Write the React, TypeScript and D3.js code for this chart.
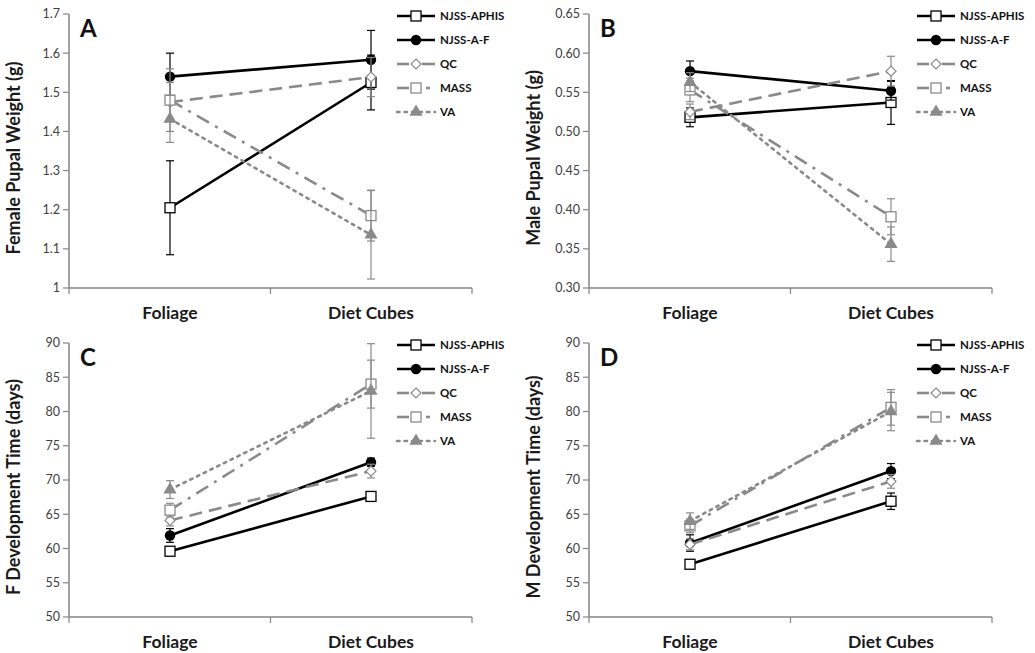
import React from 'react';
import * as d3 from 'd3';

// categories and series
const categories = ['Foliage', 'Diet Cubes'];
const seriesNames = ['NJSS-APHIS', 'NJSS-A-F', 'QC', 'MASS', 'VA'];

// A: female pupal weight (g), [foliage, diet cubes] per series
const femaleWeight = [[1.205, 1.525], [1.54, 1.583], [1.475, 1.539], [1.48, 1.185], [1.432, 1.136]];
const femaleWeightErr = [[0.12, 0.07], [0.06, 0.075], [0.05, 0.05], [0.08, 0.065], [0.06, 0.113]];

// B: male pupal weight (g)
const maleWeight = [[0.518, 0.537], [0.577, 0.552], [0.525, 0.577], [0.553, 0.391], [0.563, 0.356]];
const maleWeightErr = [[0.012, 0.028], [0.013, 0.012], [0.01, 0.019], [0.015, 0.023], [0.012, 0.022]];

// C: female development time (days)
const femaleDev = [[59.6, 67.6], [61.9, 72.6], [64.1, 71.3], [65.6, 84.0], [68.6, 83.0]];
const femaleDevErr = [[0.5, 0.6], [1.0, 0.6], [0.8, 1.0], [1.0, 3.5], [1.3, 6.9]];

// D: male development time (days)
const maleDev = [[57.7, 66.9], [60.8, 71.3], [60.6, 69.8], [63.3, 80.6], [64.0, 80.0]];
const maleDevErr = [[0.4, 1.2], [1.2, 1.1], [0.8, 1.0], [1.0, 2.6], [1.2, 2.8]];

const weightTicksA = [1, 1.1, 1.2, 1.3, 1.4, 1.5, 1.6, 1.7];
const weightTicksB = [0.3, 0.35, 0.4, 0.45, 0.5, 0.55, 0.6, 0.65];
const devTicks = [50, 55, 60, 65, 70, 75, 80, 85, 90];

const FONT = 'Lato, "Open Sans", sans-serif';
const GRAY = '#8a8a8a';
const AXIS = '#858585';

const styles = [
  { color: '#000', dash: null, marker: 'square', width: 2.6 },
  { color: '#000', dash: null, marker: 'circle', width: 2.6 },
  { color: GRAY, dash: '13,7', marker: 'diamond', width: 2.6 },
  { color: GRAY, dash: '14,7,3,7', marker: 'square', width: 2.6 },
  { color: GRAY, dash: '2.5,5', marker: 'triangle', width: 2.6 },
];

function Marker({ x, y, kind, color }: any) {
  if (kind === 'circle') return <circle cx={x} cy={y} r={5.2} fill={color} />;
  if (kind === 'square')
    return <rect x={x - 5} y={y - 5} width={10} height={10} fill="#fff" stroke={color} strokeWidth={1.3} />;
  if (kind === 'diamond')
    return <path d={`M${x},${y - 5}L${x + 5},${y}L${x},${y + 5}L${x - 5},${y}Z`} fill="#fff" stroke={color} strokeWidth={1.2} />;
  return <path d={d3.symbol(d3.symbolTriangle, 75)() || ''} transform={`translate(${x},${y})`} fill={color} />;
}

function Panel({ ox, oy, letter, title, values, errs, ticks, fmt }: any) {
  const x = d3.scalePoint().domain(categories).range([170, 371]);
  const y = d3.scaleLinear().domain([ticks[0], ticks[ticks.length - 1]]).range([288, 14]);
  const line = d3.line<number>().x((_, i) => x(categories[i])!).y(v => y(v));
  return (
    <g transform={`translate(${ox},${oy})`} fontFamily={FONT}>
      {/* axes */}
      <line x1={69} x2={69} y1={14} y2={288} stroke={AXIS} strokeWidth={1.5} />
      <line x1={69} x2={472} y1={288} y2={288} stroke={AXIS} strokeWidth={1.5} />
      {[69, 270.5, 472].map((t, i) => (
        <line key={i} x1={t} x2={t} y1={288} y2={294} stroke={AXIS} strokeWidth={1.2} />
      ))}
      {ticks.map((t: number) => (
        <g key={t}>
          <line x1={63} x2={69} y1={y(t)} y2={y(t)} stroke={AXIS} strokeWidth={1.2} />
          <text x={60} y={y(t)} dy="0.35em" textAnchor="end" fontSize={12.5} fill="#404040">{fmt(t)}</text>
        </g>
      ))}
      {categories.map(c => (
        <text key={c} x={x(c)} y={319} textAnchor="middle" fontSize={17.5} fontWeight="bold" fill="#1a1a1a">{c}</text>
      ))}
      <text transform={`translate(20,158) rotate(-90)`} textAnchor="middle" fontSize={18} fontWeight="bold" fill="#1a1a1a">{title}</text>
      <text x={80} y={37} fontSize={24} fontWeight="bold" fill="#111">{letter}</text>

      {/* series */}
      {values.map((vals: number[], s: number) => {
        const st = styles[s];
        return (
          <g key={s}>
            {vals.map((v, i) => {
              const cx = x(categories[i])!;
              const lo = y(v - errs[s][i]);
              const hi = y(v + errs[s][i]);
              return (
                <g key={i} stroke={st.color} strokeWidth={1.2}>
                  <line x1={cx} x2={cx} y1={lo} y2={hi} />
                  <line x1={cx - 4} x2={cx + 4} y1={lo} y2={lo} />
                  <line x1={cx - 4} x2={cx + 4} y1={hi} y2={hi} />
                </g>
              );
            })}
            <path d={line(vals) || ''} fill="none" stroke={st.color} strokeWidth={st.width}
              strokeDasharray={st.dash || undefined} strokeLinecap={st.marker === 'triangle' ? 'round' : 'butt'} />
            {vals.map((v, i) => (
              <Marker key={i} x={x(categories[i])} y={y(v)} kind={st.marker} color={st.color} />
            ))}
          </g>
        );
      })}

      {/* legend */}
      {seriesNames.map((n, s) => {
        const st = styles[s];
        const ly = 16 + s * 24;
        return (
          <g key={n}>
            <line x1={397} x2={435} y1={ly} y2={ly} stroke={st.color} strokeWidth={st.width}
              strokeDasharray={st.dash ? (s === 4 ? '2.5,5' : '12,30') : undefined}
              strokeLinecap={s === 4 ? 'round' : 'butt'} />
            {s === 3 && <line x1={426} x2={430} y1={ly} y2={ly} stroke={st.color} strokeWidth={st.width} />}
            {s === 2 && <line x1={422} x2={435} y1={ly} y2={ly} stroke={st.color} strokeWidth={st.width} />}
            <Marker x={416} y={ly} kind={st.marker} color={st.color} />
            <text x={440} y={ly} dy="0.36em" fontSize={11.5} fontWeight="bold" fill="#111">{n}</text>
          </g>
        );
      })}
    </g>
  );
}

export default function App() {
  return (
    <svg width={1035} height={653} style={{ position: 'absolute', left: 0, top: 0, background: '#fff' }}>
      <rect width={1035} height={653} fill="#fff" />
      <Panel ox={0} oy={0} letter="A" title="Female Pupal Weight (g)" values={femaleWeight} errs={femaleWeightErr}
        ticks={weightTicksA} fmt={(t: number) => (t === 1 ? '1' : d3.format('.1f')(t))} />
      <Panel ox={520} oy={0} letter="B" title="Male Pupal Weight (g)" values={maleWeight} errs={maleWeightErr}
        ticks={weightTicksB} fmt={d3.format('.2f')} />
      <Panel ox={0} oy={329} letter="C" title="F Development Time (days)" values={femaleDev} errs={femaleDevErr}
        ticks={devTicks} fmt={d3.format('d')} />
      <Panel ox={520} oy={329} letter="D" title="M Development Time (days)" values={maleDev} errs={maleDevErr}
        ticks={devTicks} fmt={d3.format('d')} />
    </svg>
  );
}
